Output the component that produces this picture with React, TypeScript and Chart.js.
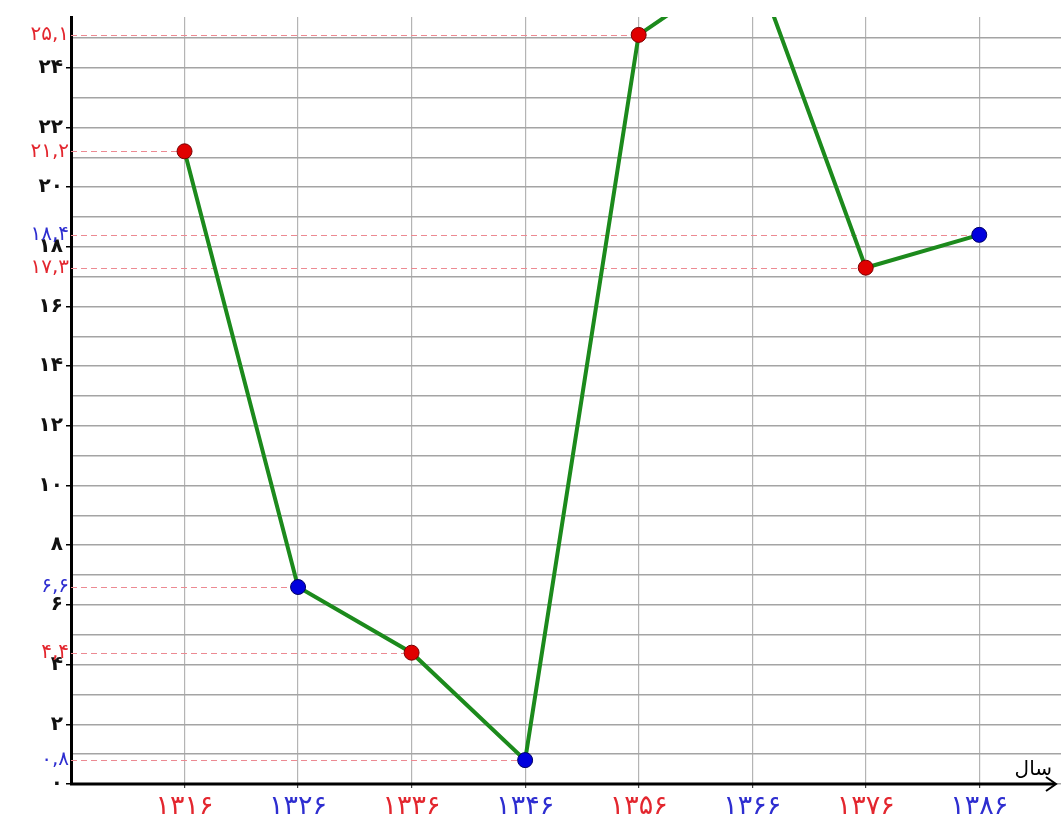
import React, { useEffect, useRef } from 'react';
import { Chart, registerables } from 'chart.js';

Chart.register(...registerables);

// ---- data ----
const years = [1316, 1326, 1336, 1346, 1356, 1366, 1376, 1386];
const values = [21.2, 6.6, 4.4, 0.8, 25.1, 27.7, 17.3, 18.4];
const yTicks = [0, 1, 2, 3, 4, 5, 6, 7, 8, 9, 10, 11, 12, 13, 14, 15, 16, 17, 18, 19, 20, 21, 22, 23, 24, 25];
const xAxisTitle = 'سال';

// ---- styles ----
const RED = '#e3262e';
const BLUE = '#2e2ed0';
const PT_RED = '#e00000';
const PT_BLUE = '#0000dd';
const FONT = '"DejaVu Sans", sans-serif';

const toFa = (n: number | string) =>
  String(n).replace(/\d/g, (d) => '۰۱۲۳۴۵۶۷۸۹'[+d]).replace('.', ',');

const decor = {
  id: 'decor',
  beforeDatasetsDraw(chart: any) {
    const { ctx, chartArea, scales } = chart;
    const x = scales.x;
    const y = scales.y;
    ctx.save();
    ctx.strokeStyle = '#ec8a92';
    ctx.lineWidth = 1.2;
    ctx.setLineDash([6, 4]);
    years.forEach((yr, i) => {
      const v = values[i];
      if (v > y.max) return;
      const py = Math.round(y.getPixelForValue(v)) + 0.5;
      const px = x.getPixelForValue(yr);
      ctx.beginPath();
      ctx.moveTo(chartArea.left, py);
      ctx.lineTo(px, py);
      ctx.stroke();
    });
    ctx.restore();
  },
  afterDraw(chart: any) {
    const { ctx, chartArea, scales } = chart;
    const y = scales.y;
    ctx.save();
    // x axis line with arrow
    const by = chartArea.bottom;
    ctx.strokeStyle = '#000';
    ctx.lineWidth = 3;
    ctx.beginPath();
    ctx.moveTo(chartArea.left - 1, by);
    ctx.lineTo(1055, by);
    ctx.stroke();
    ctx.lineWidth = 2;
    ctx.beginPath();
    ctx.moveTo(1046, by - 7);
    ctx.lineTo(1056, by);
    ctx.lineTo(1046, by + 7);
    ctx.stroke();
    // axis title
    ctx.fillStyle = '#000';
    ctx.font = `20px ${FONT}`;
    ctx.textAlign = 'right';
    ctx.textBaseline = 'alphabetic';
    ctx.fillText(xAxisTitle, 1052, by - 9);
    // value labels on y axis
    ctx.font = `20px ${FONT}`;
    (ctx as any).letterSpacing = '3px';
    ctx.textBaseline = 'middle';
    years.forEach((yr, i) => {
      const v = values[i];
      if (v > y.max) return;
      ctx.fillStyle = i % 2 ? BLUE : RED;
      ctx.fillText(toFa(v), chartArea.left - 2, y.getPixelForValue(v));
    });
    ctx.restore();
  },
};

export default function App() {
  const ref = useRef<HTMLCanvasElement | null>(null);
  useEffect(() => {
    if (!ref.current) return;
    const chart = new Chart(ref.current, {
      type: 'line',
      data: {
        datasets: [
          {
            data: years.map((yr, i) => ({ x: yr, y: values[i] })),
            borderColor: '#1c8a1c',
            borderWidth: 4,
            tension: 0,
            pointRadius: 7.5,
            pointHoverRadius: 7.5,
            pointBorderWidth: 1,
            pointBackgroundColor: years.map((_, i) => (i % 2 ? PT_BLUE : PT_RED)),
            pointBorderColor: years.map((_, i) => (i % 2 ? '#000066' : '#770000')),
          },
        ],
      },
      options: {
        animation: false,
        responsive: false,
        devicePixelRatio: 1,
        layout: { autoPadding: false, padding: { top: 17, right: 0, left: 0, bottom: 0 } },
        plugins: { legend: { display: false }, tooltip: { enabled: false } },
        scales: {
          x: {
            type: 'linear',
            min: 1306,
            max: 1393.2,
            afterFit: (s: any) => {
              s.height = 38;
              s.paddingLeft = 0;
              s.paddingRight = 0;
            },
            afterBuildTicks: (s: any) => {
              s.ticks = years.map((v) => ({ value: v }));
            },
            grid: {
              color: '#b4b4b4',
              lineWidth: 1.2,
              tickLength: 4,
              tickColor: '#444',
            },
            border: { display: false },
            ticks: {
              padding: 3,
              font: { family: FONT, size: 27 },
              color: (c: any) => (c.index % 2 ? BLUE : RED),
              callback: (v: any) => toFa(v),
              maxRotation: 0,
              autoSkip: false,
            },
          },
          y: {
            type: 'linear',
            min: 0,
            max: 25.7,
            afterFit: (s: any) => {
              s.width = 71;
              s.paddingTop = 0;
              s.paddingBottom = 0;
            },
            afterBuildTicks: (s: any) => {
              s.ticks = yTicks.map((v) => ({ value: v }));
            },
            grid: {
              color: '#a4a4a4',
              lineWidth: 1.5,
              tickLength: 5,
              tickColor: (c: any) => (c.tick && c.tick.value % 2 === 0 ? '#000' : 'rgba(0,0,0,0)'),
            },
            border: { display: true, color: '#000', width: 3 },
            ticks: {
              padding: 3,
              color: '#111',
              font: { family: FONT, size: 20, weight: 'bold' },
              autoSkip: false,
              callback: (v: any) => (Number(v) % 2 === 0 ? toFa(v) : ''),
            },
          },
        },
      },
      plugins: [decor],
    });
    return () => chart.destroy();
  }, []);
  return (
    <div style={{ position: 'fixed', left: 0, top: 0, width: 1061, height: 822, background: '#fff' }}>
      <canvas ref={ref} width={1061} height={822} style={{ display: 'block' }} />
    </div>
  );
}
